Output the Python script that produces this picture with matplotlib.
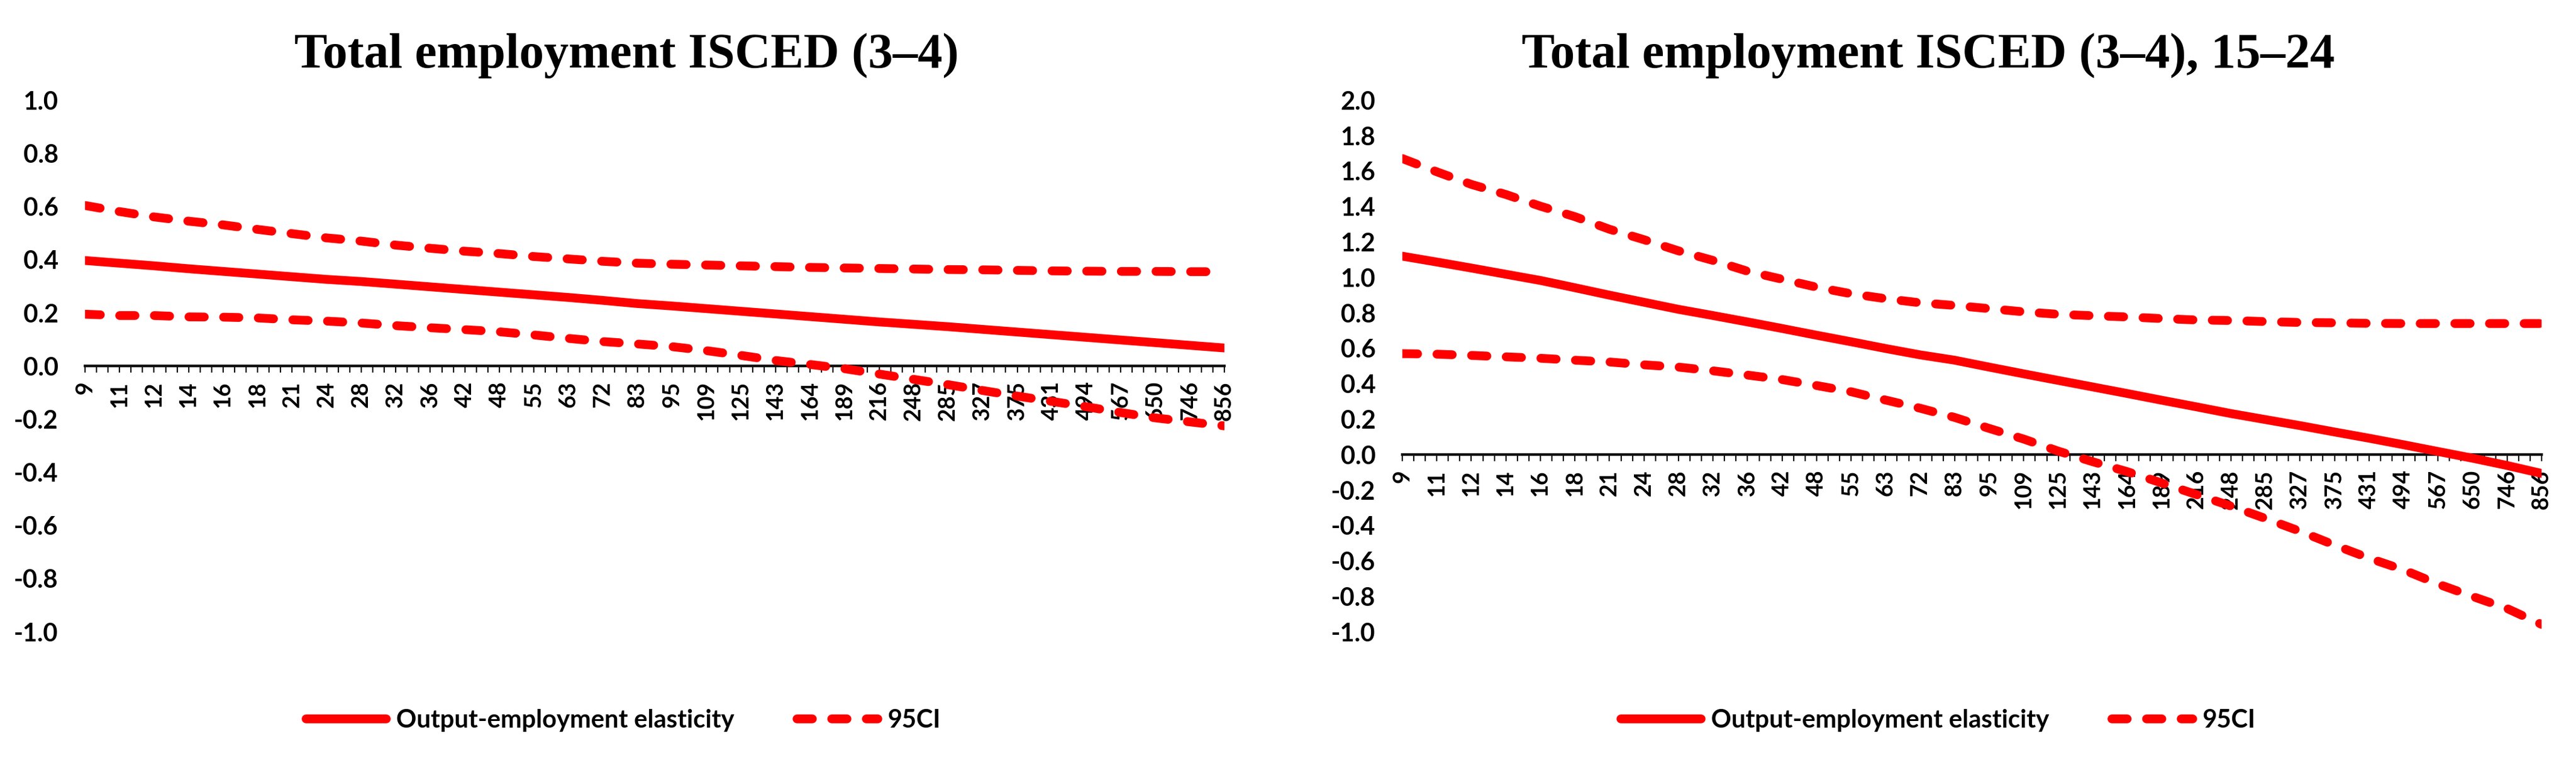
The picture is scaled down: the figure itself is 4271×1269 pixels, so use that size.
import matplotlib
matplotlib.use("Agg")
import matplotlib.pyplot as plt
from matplotlib.lines import Line2D
import numpy as np

# ---------------- data ----------------
tick_labels = ["9", "11", "12", "14", "16", "18", "21", "24", "28", "32", "36", "42",
               "48", "55", "63", "72", "83", "95", "109", "125", "143", "164", "189",
               "216", "248", "285", "327", "375", "431", "494", "567", "650", "746", "856"]

left_title = "Total employment ISCED (3\u20134)"
right_title = "Total employment ISCED (3\u20134), 15\u201324"
series_names = ["Output-employment elasticity", "95CI"]

left_elasticity = [0.397, 0.387, 0.377, 0.366, 0.356, 0.346, 0.336, 0.326, 0.318, 0.308,
                   0.298, 0.288, 0.278, 0.268, 0.258, 0.247, 0.235, 0.226, 0.216, 0.206,
                   0.196, 0.186, 0.176, 0.166, 0.157, 0.148, 0.138, 0.128, 0.118, 0.108,
                   0.098, 0.088, 0.078, 0.068]
left_upper = [0.604, 0.581, 0.561, 0.545, 0.531, 0.514, 0.498, 0.482, 0.470, 0.455,
              0.443, 0.432, 0.423, 0.412, 0.403, 0.394, 0.387, 0.383, 0.380, 0.377,
              0.374, 0.371, 0.369, 0.367, 0.365, 0.363, 0.362, 0.360, 0.358, 0.357,
              0.356, 0.356, 0.355, 0.355]
left_lower = [0.195, 0.190, 0.190, 0.185, 0.184, 0.181, 0.174, 0.169, 0.162, 0.152,
              0.144, 0.137, 0.129, 0.117, 0.104, 0.092, 0.083, 0.073, 0.058, 0.040,
              0.021, 0.006, -0.010, -0.030, -0.050, -0.070, -0.092, -0.113, -0.133, -0.153,
              -0.175, -0.195, -0.210, -0.225]

right_elasticity = [1.120, 1.087, 1.053, 1.018, 0.983, 0.942, 0.900, 0.860, 0.820, 0.785,
                    0.749, 0.712, 0.674, 0.637, 0.599, 0.563, 0.533, 0.494, 0.456, 0.419,
                    0.382, 0.345, 0.307, 0.270, 0.232, 0.198, 0.164, 0.128, 0.093, 0.056,
                    0.018, -0.020, -0.061, -0.106]
right_upper = [1.671, 1.596, 1.525, 1.468, 1.402, 1.343, 1.272, 1.213, 1.150, 1.096,
               1.035, 0.990, 0.945, 0.908, 0.880, 0.857, 0.842, 0.824, 0.806, 0.792,
               0.784, 0.777, 0.768, 0.760, 0.757, 0.751, 0.746, 0.744, 0.741, 0.740,
               0.740, 0.740, 0.740, 0.740]
right_lower = [0.570, 0.567, 0.560, 0.552, 0.544, 0.533, 0.523, 0.507, 0.494, 0.473,
               0.449, 0.424, 0.390, 0.355, 0.308, 0.262, 0.210, 0.148, 0.088, 0.020,
               -0.040, -0.096, -0.160, -0.225, -0.290, -0.360, -0.432, -0.510, -0.584, -0.650,
               -0.730, -0.800, -0.868, -0.958]

left_yticks = [-1.0, -0.8, -0.6, -0.4, -0.2, 0.0, 0.2, 0.4, 0.6, 0.8, 1.0]
right_yticks = [-1.0, -0.8, -0.6, -0.4, -0.2, 0.0, 0.2, 0.4, 0.6, 0.8, 1.0,
                1.2, 1.4, 1.6, 1.8, 2.0]

# ---------------- style ----------------
RED = "#FF0000"
LW = 10.5
DASH = (0, (1.74, 2.2))
LABEL_FONT = "Lato"
TITLE_FONT = "Liberation Serif"

W, H = 4271, 1269
fig = plt.figure(figsize=(W / 100, H / 100), dpi=100)

def make_panel(rect, elast, upper, lower, yticks):
    ax = fig.add_axes(rect)
    x = np.arange(len(tick_labels))
    ax.plot(x, elast, color=RED, lw=LW, solid_capstyle="round", solid_joinstyle="round", zorder=3)
    ax.plot(x, upper, color=RED, lw=LW, linestyle=DASH, dash_capstyle="round", zorder=3)
    ax.plot(x, lower, color=RED, lw=LW, linestyle=DASH, dash_capstyle="round", zorder=3)
    ax.set_xlim(0, len(tick_labels) - 1)
    ax.set_ylim(yticks[0], yticks[-1])
    ax.set_axisbelow(True)
    for s in ["left", "right", "top"]:
        ax.spines[s].set_visible(False)
    ax.spines["bottom"].set_position(("data", 0.0))
    ax.spines["bottom"].set_linewidth(3.2)
    ax.spines["bottom"].set_color("#111111")
    ax.spines["bottom"].set_zorder(2.5)
    ax.set_xticks(x)
    ax.set_xticklabels(tick_labels, rotation=90, ha="center", va="top",
                       fontfamily=LABEL_FONT, fontweight="bold", fontsize=27)
    ax.set_xticks(np.arange(0, len(tick_labels) - 1 + 1e-9, 1 / 3), minor=True)
    ax.tick_params(axis="x", which="both", direction="out", length=8, width=1.6,
                   color="#111111", pad=10)
    ax.set_yticks(yticks)
    ax.set_yticklabels([f"{v:.1f}" for v in yticks], fontfamily=LABEL_FONT,
                       fontweight="bold", fontsize=30)
    ax.tick_params(axis="y", length=0, pad=32)
    ax.patch.set_alpha(0)
    return ax

bottom, top = 0.174, 0.869
axL = make_panel([141 / W, bottom, (2030 - 141) / W, top - bottom],
                 left_elasticity, left_upper, left_lower, left_yticks)
axR = make_panel([2325 / W, bottom, (4214 - 2325) / W, top - bottom],
                 right_elasticity, right_upper, right_lower, right_yticks)

fig.text(1039 / W, 1 - 112 / H, left_title, ha="center", va="baseline",
         fontfamily=TITLE_FONT, fontweight="bold", fontsize=59)
fig.text(3197 / W, 1 - 112 / H, right_title, ha="center", va="baseline",
         fontfamily=TITLE_FONT, fontweight="bold", fontsize=59)

handles = [Line2D([], [], color=RED, lw=LW, solid_capstyle="round"),
           Line2D([], [], color=RED, lw=LW, linestyle=DASH, dash_capstyle="round")]
for cx in (1033, 3213):
    fig.legend(handles, series_names, loc="center", bbox_to_anchor=(cx / W, 1 - 1195 / H),
               ncol=2, frameon=False, handlelength=3.2, handletextpad=0.4,
               columnspacing=2.5, prop={"family": LABEL_FONT, "weight": "bold", "size": 30})

fig.savefig("out.png", dpi=100, facecolor="white")
